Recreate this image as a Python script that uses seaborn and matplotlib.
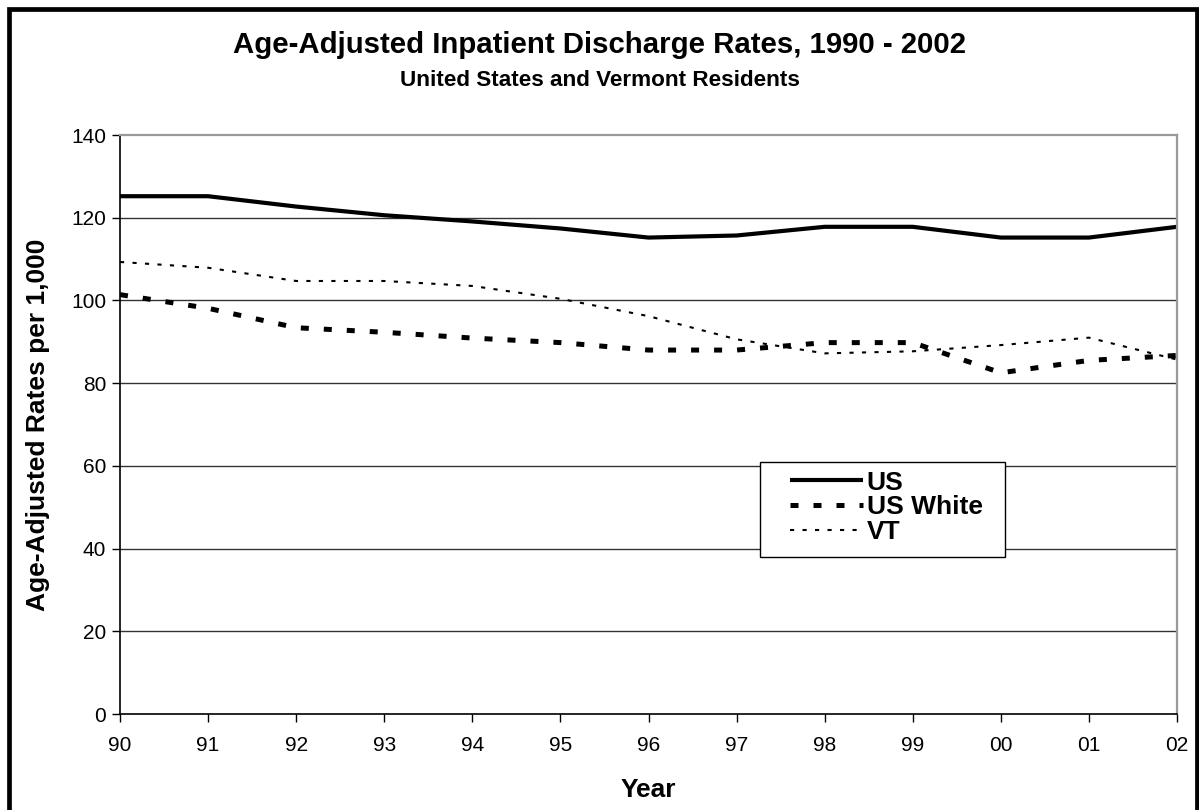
import matplotlib
matplotlib.use("Agg")
import matplotlib.pyplot as plt
from matplotlib.patches import Rectangle
import seaborn as sns
import pandas as pd

# Discharge rates per 1,000, age-adjusted
years = ["90", "91", "92", "93", "94", "95", "96", "97", "98", "99", "00", "01", "02"]
us = [125.2, 125.2, 122.7, 120.6, 119.1, 117.4, 115.2, 115.7, 117.8, 117.8, 115.2, 115.2, 117.8]
us_white = [101.4, 98.1, 93.4, 92.3, 90.9, 89.8, 88.0, 88.0, 89.8, 89.8, 82.5, 85.5, 86.7]
vt = [109.3, 107.9, 104.7, 104.7, 103.5, 100.4, 96.2, 90.6, 87.2, 87.7, 89.2, 91.0, 85.7]
series_names = ["US", "US White", "VT"]
y_ticks = [0, 20, 40, 60, 80, 100, 120, 140]

sns.set_theme(style="white")
plt.rcParams["font.family"] = ["Liberation Sans", "DejaVu Sans"]
plt.rcParams["text.color"] = "black"
plt.rcParams["axes.labelcolor"] = "black"
plt.rcParams["xtick.color"] = "black"
plt.rcParams["ytick.color"] = "black"

W, H, DPI = 1199, 810, 100
fig = plt.figure(figsize=(W / DPI, H / DPI), dpi=DPI)
ax = fig.add_axes([120 / W, 1 - 714 / H, (1177 - 120) / W, (714 - 135) / H])

pos = list(range(len(years)))
df = pd.DataFrame({
    "pos": pos * 3,
    "rate": us + us_white + vt,
    "series": [series_names[0]] * len(years) + [series_names[1]] * len(years) + [series_names[2]] * len(years),
})

styles = {
    "US": dict(lw=3.0, dashes=None),
    "US White": dict(lw=3.6, dashes=(1.6, 3.0)),
    "VT": dict(lw=1.5, dashes=(2.0, 4.0)),
}
for name in series_names:
    sub = df[df["series"] == name]
    st = styles[name]
    sns.lineplot(data=sub, x="pos", y="rate", ax=ax, color="black",
                 linewidth=st["lw"], label=name, legend=False)
    line = ax.lines[-1]
    if st["dashes"] is not None:
        line.set_dashes(st["dashes"])
    line.set_solid_capstyle("butt")
    line.set_dash_capstyle("butt")

ax.set_xlim(0, len(years) - 1)
ax.set_ylim(0, 140)
ax.set_xticks(pos)
ax.set_xticklabels(years)
ax.set_yticks(y_ticks)

ax.grid(False)
for v in y_ticks[1:-1]:
    ax.axhline(v, color="#333333", lw=1.0, zorder=0)

for side in ["left", "bottom"]:
    ax.spines[side].set_color("black")
    ax.spines[side].set_linewidth(1.2)
for side in ["top", "right"]:
    ax.spines[side].set_color("#9a9a9a")
    ax.spines[side].set_linewidth(1.6)

ax.tick_params(axis="both", which="major", direction="out", length=6, width=1.0,
               color="black", labelsize=15, bottom=True, left=True)
ax.tick_params(axis="x", pad=10)
ax.tick_params(axis="y", pad=4)

ax.set_xlabel("Year", fontsize=19, fontweight="bold")
ax.set_ylabel("Age-Adjusted Rates per 1,000", fontsize=19, fontweight="bold")
ax.xaxis.label.set_va("center")
ax.yaxis.label.set_va("center")
ax.xaxis.set_label_coords(0.5, (714 - 790) / (714 - 135))
ax.yaxis.set_label_coords((38 - 120) / (1177 - 120), 0.5)

fig.text(0.5, 1 - 45 / H, "Age-Adjusted Inpatient Discharge Rates, 1990 - 2002",
         ha="center", va="center", fontsize=21.2, fontweight="bold")
fig.text(0.5, 1 - 80 / H, "United States and Vermont Residents",
         ha="center", va="center", fontsize=16.2, fontweight="bold")

# Legend box, then the entries placed inside it
fig.patches.append(Rectangle((760 / W, 1 - 557 / H), (1005 - 760) / W, (557 - 462) / H,
                             transform=fig.transFigure, facecolor="white",
                             edgecolor="black", linewidth=1.0, zorder=5))
handles, labels = ax.get_legend_handles_labels()
leg = fig.legend(handles, labels, loc="center left", bbox_to_anchor=(790 / W, 1 - 507.5 / H),
                 bbox_transform=fig.transFigure, borderaxespad=0, borderpad=0,
                 frameon=False, prop={"size": 19, "weight": "bold"},
                 handlelength=2.75, handletextpad=0.15, labelspacing=0.03)
leg.set_zorder(6)

# Outer chart frame
fig.patches.append(Rectangle((8.5 / W, -0.05), (1196.5 - 8.5) / W, 1 - 8.5 / H + 0.05,
                             transform=fig.transFigure, fill=False,
                             edgecolor="black", linewidth=3.4, zorder=10))

fig.savefig("out.png", dpi=DPI)
